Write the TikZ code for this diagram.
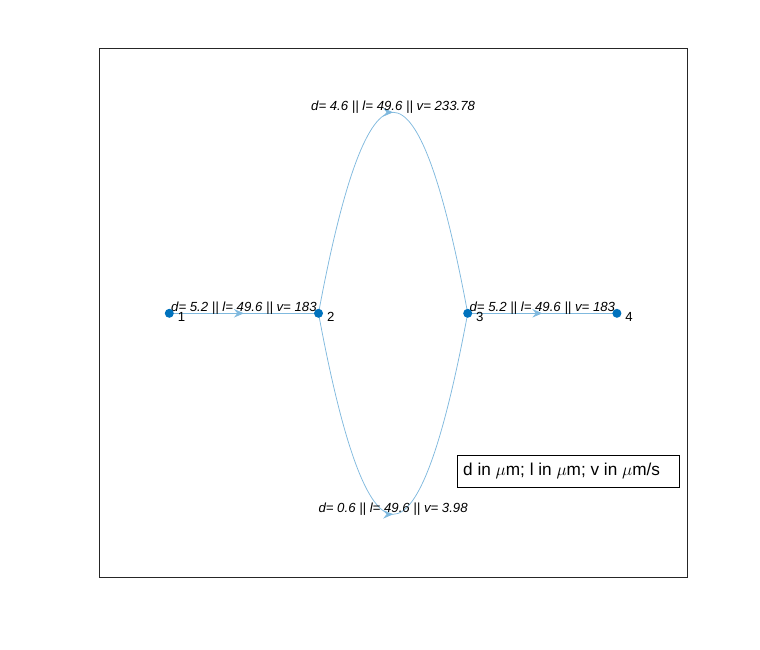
\documentclass[tikz,border=0pt]{standalone}
\usepackage{fontspec}
\setmainfont{Liberation Sans}
\usetikzlibrary{arrows.meta,decorations.markings}
\definecolor{edgec}{RGB}{128,185,222}
\definecolor{nodec}{RGB}{0,114,189}
\begin{document}
\begin{tikzpicture}[x=1pt,y=-1pt,
  vert/.style={circle,fill=nodec,inner sep=0pt,minimum size=9pt},
  vlabel/.style={anchor=west,font=\fontsize{13.2}{16}\selectfont,inner sep=0pt},
  elabel/.style={anchor=base,font=\itshape\fontsize{13.2}{16}\selectfont,inner sep=0pt},
  graphedge/.style={draw=edgec,line width=0.75pt,postaction={decorate},
    decoration={markings,mark=at position 0.5 with {\arrow[color=edgec]{Stealth[length=10pt,width=8.5pt,inset=3.5pt]}}}},
  axbox/.style={draw=black!85,line width=0.6pt},
  notebox/.style={draw=black,line width=0.8pt,fill=white,minimum width=222pt,minimum height=32pt,inner sep=0pt}
]
\useasboundingbox (0,0) rectangle (760,649);
% axes box
\node[axbox,minimum width=588pt,minimum height=529pt,inner sep=0pt] (axes) at (393.5,313) {};
% vertices
\coordinate (p1) at (169.3,313.3);
\coordinate (p2) at (318.5,313.3);
\coordinate (p3) at (467.7,313.3);
\coordinate (p4) at (616.9,313.3);
% edges
\draw[graphedge] (p1) -- (p2);
\draw[graphedge] (p2) .. controls (368.2,45.3) and (418.0,45.3) .. (p3);
\draw[graphedge] (p2) .. controls (368.2,581.3) and (418.0,581.3) .. (p3);
\draw[graphedge] (p3) -- (p4);
% edge labels
\node[elabel] (l12) at (243.9,311.8) {d= 5.2 || l= 49.6 || v= 183};
\node[elabel] (ltop) at (393.1,110.3) {d= 4.6 || l= 49.6 || v= 233.78};
\node[elabel] (lbot) at (393.1,512.3) {d= 0.6 || l= 49.6 || v= 3.98};
\node[elabel] (l34) at (542.3,311.8) {d= 5.2 || l= 49.6 || v= 183};
% vertex markers
\node[vert] (n1) at (p1) {};
\node[vert] (n2) at (p2) {};
\node[vert] (n3) at (p3) {};
\node[vert] (n4) at (p4) {};
% vertex labels
\node[vlabel] (t1) at (177.6,317) {1};
\node[vlabel] (t2) at (326.8,317) {2};
\node[vlabel] (t3) at (476.0,317) {3};
\node[vlabel] (t4) at (625.2,317) {4};
% note box
\node[notebox] (note) at (568,471) {};
\node[anchor=west,inner sep=0pt,font=\fontsize{17.2}{20}\selectfont] (notetext) at (463,470.5) {d in $\mu$m; l in $\mu$m; v in $\mu$m/s};
\end{tikzpicture}
\end{document}
